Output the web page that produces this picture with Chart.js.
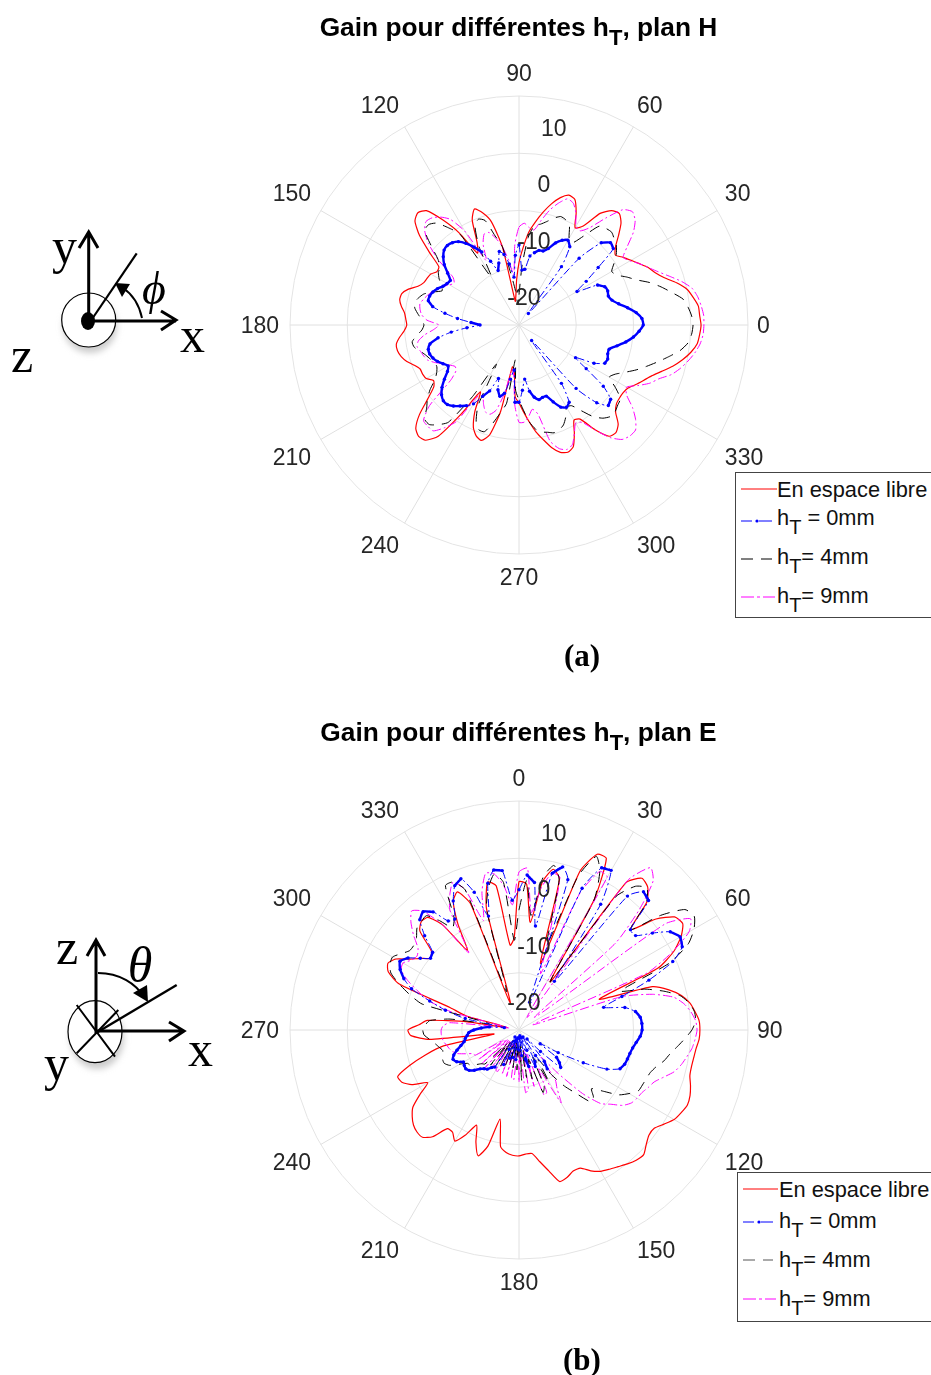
<!DOCTYPE html>
<html><head><meta charset="utf-8">
<script src="https://cdn.jsdelivr.net/npm/chart.js@4/dist/chart.umd.min.js"></script>
<style>
html,body{margin:0;padding:0;background:#fff}
#page{position:relative;width:931px;height:1375px;overflow:hidden;background:#fff}
canvas{position:absolute;left:0}
.title{position:absolute;left:0;width:1037px;text-align:center;font:bold 26.3px "Liberation Sans",Arial,sans-serif;color:#000;white-space:nowrap}
.title sub{font-size:22px;line-height:0;vertical-align:-9px}
.cap{position:absolute;font:bold 31px "Liberation Serif",serif;color:#000}
.legend{position:absolute;background:#fff;border:1px solid #444;border-right:none;box-sizing:border-box}
.legend div{position:absolute;font:21.8px "Liberation Sans",Arial,sans-serif;color:#111;white-space:nowrap;line-height:26px}
.legend sub{font-size:20px;line-height:0;vertical-align:-9px}
.legend svg{position:absolute;left:0;top:0}
svg.fig{position:absolute;left:0;top:0}
</style></head><body><div id="page">
<canvas id="a" width="931" height="700" style="top:0"></canvas>
<canvas id="b" width="931" height="670" style="top:705px"></canvas>

<div class="title" style="top:12px">Gain pour différentes h<sub>T</sub>, plan H</div>
<div class="title" style="top:717px">Gain pour différentes h<sub>T</sub>, plan E</div>
<div class="cap" style="left:564px;top:638px">(a)</div>
<div class="cap" style="left:563px;top:1342px">(b)</div>

<div class="legend" style="left:735px;top:472px;width:196px;height:146px">
<svg width="196" height="146">
<line x1="5" x2="41" y1="16" y2="16" stroke="#ff0000"/>
<line x1="5" x2="36" y1="48" y2="48" stroke="#0000ff" stroke-dasharray="11 7 13"/><circle cx="21" cy="48" r="1.6" fill="#0000ff"/>
<line x1="5" x2="36" y1="86" y2="86" stroke="#000" stroke-dasharray="12 8"/>
<line x1="5" x2="39" y1="124" y2="124" stroke="#ff00ff" stroke-dasharray="13 3 3 3"/>
</svg>
<div style="left:41px;top:4px">En espace libre</div>
<div style="left:41px;top:32px">h<sub>T</sub> = 0mm</div>
<div style="left:41px;top:71px">h<sub>T</sub>= 4mm</div>
<div style="left:41px;top:110px">h<sub>T</sub>= 9mm</div>
</div>

<div class="legend" style="left:737px;top:1172px;width:194px;height:150px">
<svg width="194" height="150">
<line x1="5" x2="40" y1="16" y2="16" stroke="#ff0000"/>
<line x1="5" x2="35" y1="49" y2="49" stroke="#0000ff" stroke-dasharray="11 7 13"/><circle cx="21" cy="49" r="1.6" fill="#0000ff"/>
<line x1="5" x2="35" y1="87" y2="87" stroke="#555" stroke-dasharray="12 8"/>
<line x1="5" x2="38" y1="126" y2="126" stroke="#ff00ff" stroke-dasharray="13 3 3 3"/>
</svg>
<div style="left:41px;top:4px">En espace libre</div>
<div style="left:41px;top:35px">h<sub>T</sub> = 0mm</div>
<div style="left:41px;top:74px">h<sub>T</sub>= 4mm</div>
<div style="left:41px;top:113px">h<sub>T</sub>= 9mm</div>
</div>

<svg class="fig" width="931" height="1375" font-family="Liberation Serif" fill="#000">
<defs><filter id="s" x="-30%" y="-30%" width="160%" height="170%"><feGaussianBlur stdDeviation="3"/></filter></defs>
<ellipse cx="90" cy="326" rx="27" ry="27" fill="#ccc" filter="url(#s)"/>
<circle cx="88.7" cy="320" r="27" fill="#fff" stroke="#000" stroke-width="1.2"/>
<ellipse cx="88" cy="321" rx="7" ry="9"/>
<g stroke="#000" stroke-width="3" fill="none">
<path d="M88.7 323V232M79 248L88.7 232L98 248"/>
<path d="M88.7 321H176M161 311L176 320L161 330"/>
<path d="M90 322L136.7 253.3" stroke-width="2.2"/>
<path d="M142 318C139 304 132 294 123 288" stroke-width="2"/>
</g>
<path d="M115 283L130 284L122 297Z"/>
<text x="52" y="263" font-size="50">y</text>
<text x="180" y="352" font-size="50">x</text>
<text x="11" y="372" font-size="50">z</text>
<text x="154" y="304" font-size="46" font-style="italic" text-anchor="middle">ϕ</text>

<ellipse cx="97" cy="1038" rx="27" ry="31" fill="#ccc" filter="url(#s)"/>
<ellipse cx="95" cy="1031.7" rx="27" ry="31" fill="#fff" stroke="#000" stroke-width="1.2"/>
<g stroke="#000" stroke-width="3" fill="none">
<path d="M96 1033V940M87 956L96 940L105 956"/>
<path d="M96 1031H184M169 1022L184 1031L169 1041"/>
<path d="M76.7 1005L115 1056.7M76.7 1053.3L118.3 1010" stroke-width="2"/>
<path d="M96 1033L176.7 985" stroke-width="2.4"/>
<path d="M98 973C120 973 136 984 144 997" stroke-width="2"/>
</g>
<path d="M148 1002L133 993L147 985Z"/>
<text x="56" y="964" font-size="50">z</text>
<text x="188" y="1066" font-size="50">x</text>
<text x="44" y="1080" font-size="50">y</text>
<text x="140" y="982" font-size="50" font-style="italic" text-anchor="middle">θ</text>
</svg>
</div>
<script>
// Gain in dB, one value every 3 degrees, from angle 0 upward.
const redA=[6.8,6.6,6.5,5.8,5.0,3.5,1.7,0.5,-0.3,-1.4,
-2.4,-3.3,-4.2,-3.3,-1.6,0.2,1.2,0.7,-0.9,-4.4,
-5.4,-3.0,-1.0,-0.7,-1.6,-3.1,-4.9,-6.8,-8.7,-11.5,
-14.1,-17.1,-19.8,-20.8,-11,-6.3,-4.4,-3.3,-4.9,-8.9,
-10.5,-5.8,-2.3,0.7,1.4,0.7,-1.6,-4.9,-7.7,-7.9,
-7.2,-7,-6.8,-6.1,-4.7,-3.8,-3.7,-4.2,-4.9,-5.2,
-5.4,-4.9,-4,-3.3,-3.3,-3.7,-4.4,-5.4,-6.1,-6.1,
-6.3,-7.2,-6.6,-4.5,-1.6,0.5,1.2,0.9,-1,-6.5,
-11.5,-8,-5.4,-4.2,-3.8,-5.1,-9.6,-17.6,-17.1,-12.4,
-11.4,-9.8,-8,-6.1,-4.5,-2.8,-1.6,-1.2,-1.7,-3.7,
-5.8,-5.4,-2.4,0,0.3,-0.5,-2.3,-3.1,-3.3,-3.3,
-3,-2.1,-1.2,-0.2,1.2,2.8,4.2,5.4,6.3,6.6];
const blueA=[-3.3,-3.5,-4.4,-5.8,-7.2,-8.2,-8.6,-8.4,-8.6,-9.6,
-13.3,-11,-7.9,-3.8,-3.5,-4.7,-9.3,-22.4,-12.4,-8.7,
-7.9,-8.4,-9.3,-10.7,-11.4,-11.5,-12.1,-12.8,-15.2,-15.4,
-11,-12.8,-16.6,-14.2,-12.4,-11.7,-13.6,-14.8,-12.8,-10.7,
-9.3,-8,-7,-6.5,-6.3,-6.5,-7.2,-8.2,-9.6,-10.7,
-10.5,-10.1,-9.4,-8.9,-8.6,-8.6,-9.6,-11.9,-14.2,-16.6,
-18.2,-15.9,-13.1,-10.7,-9.1,-8.6,-8.6,-8.9,-9.4,-10.1,
-10.7,-10.1,-8.9,-7.7,-6.8,-6.3,-6.3,-6.8,-7.5,-8.2,
-9.1,-11,-12.4,-15,-13.1,-12.1,-12.8,-15.4,-17.1,-11.5,
-11.5,-13.6,-15.5,-13.3,-12.1,-11.5,-11.7,-11.7,-10.3,-8.9,
-8.4,-8.9,-12.4,-21.5,-10.1,-5.8,-4,-4.4,-6.8,-11,
-13.6,-10.3,-8.6,-8.4,-8.7,-8.7,-7.5,-6.1,-4.9,-4];
const blackA=[5.4,5.2,4.7,4,2.3,0.7,-1,-3,-4.4,-5.8,
-6.3,-5.2,-4,-3.1,-2.6,-2.1,-2.3,-2.8,-5.8,-7.9,
-7.5,-5.6,-4.9,-4.7,-5.4,-6.3,-7,-7.3,-9.6,-14.5,
-19.7,-21.5,-18.9,-15.9,-11,-8.9,-5.8,-5.2,-6.1,-9.6,
-15.4,-6.1,-4,-2.1,-1.4,-1.7,-4.4,-6.8,-7.9,-8.2,
-8.9,-9.8,-10.3,-8.9,-7.5,-6.8,-6.3,-6.6,-7.3,-8,
-8.4,-8,-7,-6.1,-6.3,-7.2,-7.9,-8.4,-8.9,-8.9,
-8.4,-7.5,-5.8,-4.4,-3.3,-1.7,-1.6,-2.6,-4,-10.1,
-17.1,-9.3,-6.6,-5.4,-5.4,-7.2,-9.3,-11.2,-18.9,-13.6,
-11.9,-10.1,-8,-6.6,-5.9,-5.6,-5.2,-5.4,-5.9,-7,
-8.4,-8.2,-6.5,-4.4,-3.1,-2.4,-2.4,-2.8,-3.1,-4.9,
-6.8,-6.1,-4.7,-3.1,-1.6,0,1.7,3.5,4.7,5.2];
const magentaA=[7.3,7.3,7,6.6,5.9,4.4,2.6,1,-0.3,-1.4,
-2.6,-3.3,-1.6,0.7,2.3,3,2.1,-1,-4,-5.4,
-5.1,-3.1,-1.7,-1.4,-2.6,-4.2,-6.3,-8.2,-7.9,-7.2,
-7.9,-11,-16.2,-13.6,-11,-9.3,-8,-8,-9.6,-12.4,
-6.1,-3,-1.7,-0.9,-0.7,-1.7,-3.7,-6.8,-10.7,-11.5,
-11,-10.1,-9.4,-8.7,-8.2,-7.7,-7.3,-7.5,-7.9,-8.9,
-11,-10.1,-8.4,-7.2,-6.8,-7.2,-7.5,-7.9,-8.9,-10.1,
-11,-11.7,-11.4,-9.6,-4,-1.4,-1.2,-1.2,-2.8,-4.9,
-10.7,-11,-9.8,-8.7,-8.6,-9.6,-12.8,-17.1,-16.2,-11,
-8,-8,-8.9,-10.1,-9.1,-4,-2.3,-1.7,-2.1,-3.7,
-5.2,-4.7,-2.3,0.3,1.9,2.4,2.4,1.2,-0.5,-2.6,
-3.3,-1.7,0,1.2,3,4.2,5.2,6.1,6.8,7.2];

const redB=[0.9,0.5,-6.1,1.2,3.7,2.3,-12.8,4.7,8.6,8.6,
1.2,-15,6.8,9.1,8.6,6.6,1.2,5.8,8.6,9.1,
7.7,5.4,1.6,-10,-0.5,2.1,4,5.2,5.9,6.5,
6.6,6.5,6.1,5.9,5.8,5.9,6.5,7,7.2,6.8,
6.3,5.2,4.2,4.2,4.9,5.8,5.6,5.1,4.5,4,
3.5,2.6,1.4,1.4,2.1,2.4,0.2,-1.7,-3.3,-3.3,
-3,-3.1,-3.5,-4.4,-9.1,-4,-1.9,-4,-6.8,-4.4,
-2.6,-3.7,-3.7,-1,0.2,0.2,-0.2,-1,-2.1,-4.4,
-6.6,-4,-2.6,-2.3,-4.9,-8,-11.4,-20.6,-9.3,-6.1,
-5.6,-7.5,-8.9,-15.9,-22.9,-15.4,-12.4,-2.6,0,0.7,
-0.2,-2.3,-3.7,-5.1,-4.4,-0.5,0.5,0.3,-2.3,-8.4,
-3.7,0.3,1.4,-1.4,-20.1,-3.1,1.4,0.5,-10.1,-8.9];
const blueB=[-0.5,2.1,0.9,-6.6,3,4.5,2.6,-19.8,2.1,6.8,
7.2,1.2,-14.5,5.1,7.5,7,1.2,1.2,3.8,6.5,
7.5,7,4.4,-0.7,-6.1,-9.7,-6.1,-4.4,-3.7,-3.5,
-3.5,-3.8,-4.4,-4.9,-5.2,-5.4,-5.6,-6.1,-8.2,-12.4,
-17.1,-20.6,-16.9,-15.9,-15.2,-19.7,-22.9,-18,-16.6,-19.7,
-23.6,-18.9,-18,-21.2,-23.6,-18.4,-19.8,-24,-20.5,-23.6,
-21.5,-23.6,-19.8,-23.6,-20.1,-23.3,-19.8,-22.9,-18.4,-21.2,
-23.6,-17.3,-16.9,-16.2,-15.9,-15.4,-14.5,-13.8,-13.5,-13.6,
-13.8,-12.8,-12.4,-12.8,-13.6,-14.5,-15.2,-15.5,-15.9,-16.2,
-17.1,-18.4,-19.8,-22.4,-15.4,-11.7,-8.6,-4.9,-3,-1.7,
-1,-1.9,-3.7,-5.1,-4.7,-1.7,0.9,1.6,0.5,-2.3,
-2.6,0.3,2.6,3.3,0.3,-4.4,1.2,3.3,3,-2.3];
const blackB=[-4,1.2,-4.9,2.1,4.4,2.1,-9.3,3.8,8.2,6.1,
1.2,-15,3.8,7.3,8.4,6.5,1.2,6.8,10.8,11.5,
10.3,8.2,3.8,-6,-1.9,1.2,3.8,5.1,5.8,5.9,
5.2,4,2.8,1.7,0.9,-0.2,-0.9,-1.2,-1.4,-1.6,
-2.8,-4.2,-6.8,-8.7,-7.5,-7.2,-10.1,-12.4,-15.4,-18.9,
-14.5,-19.7,-14.2,-13.3,-19.7,-16.2,-21.5,-16.6,-22.4,-16.2,
-22.4,-18,-22.9,-18.3,-23.3,-18.9,-22.9,-18.4,-22.4,-18,
-22.9,-17.6,-22.4,-17.1,-21.8,-16.6,-16.2,-15.4,-14.5,-14.3,
-13.1,-11.4,-10.7,-10.7,-11,-11.2,-10.7,-10.1,-9.3,-8.4,
-8.2,-8.6,-9.3,-12.8,-19.7,-7.5,-4.9,-2.6,-0.5,0.3,
0.5,-0.5,-1.4,-1.4,-0.9,0.2,0.5,0.7,-1.4,-3.7,
-2.3,3.3,3.3,1.2,-18,-3.1,0.5,2.6,0.9,-9.3];
const magentaB=[2.6,3.3,-4.4,0.3,3,2.6,-8.4,-14.5,1.2,6.1,
5.8,-22.4,7.3,11.5,10,4.7,-2.3,-21.5,6.5,10.7,
9.3,5.1,-0.5,-22.4,-6.1,-0.9,2.6,4.2,5.2,5.9,
6.1,5.8,5.4,4.7,4,3.1,1.6,0.3,-0.3,-0.9,
-1.2,-1.6,-2.6,-4.4,-5.8,-9.3,-14.8,-18.9,-14.2,-12.8,
-10.3,-17.6,-13.1,-12.8,-20.6,-14.8,-21.5,-14.5,-14,-21.5,
-15.9,-22.4,-16.2,-16.6,-22.9,-16.6,-22.9,-16.9,-22.4,-16.9,
-16.9,-22.5,-16.6,-22.5,-16.2,-22.4,-16.2,-22.4,-16.2,-21.8,
-16.2,-15.9,-14.8,-13.5,-12.8,-12.4,-12.1,-11.7,-11.5,-11.4,
-11.4,-11.7,-12.8,-21.5,-23.2,-12.8,-8.4,-6.1,-3.7,-1.9,
-1.6,-2.6,-3,-2.3,-0.2,1.7,3,1.7,-2.3,-8.9,
-0.9,1.6,3.3,1.2,-4.9,0,3,2.6,0.3,-3.1];

const radialTicks=[-20,-10,0,10];
const STEP=3;
const seriesNames=['En espace libre','h_T = 0mm','h_T = 4mm','h_T = 9mm'];
const anglesA=Array.from({length:120},(_,i)=>(90-STEP*i+360)%360);
const anglesB=Array.from({length:120},(_,i)=>(STEP*i)%360);

const labelFont='23px "Liberation Sans", Arial, sans-serif';
const textPlugin={id:'polarText',
 afterDraw(chart){
  const s=chart.scales.r,c=chart.ctx;
  c.save();c.font=labelFont;c.fillStyle='#262626';c.textAlign='center';c.textBaseline='middle';
  const sgn=v=>Math.abs(v)<1e-6?0:Math.sign(v);
  chart.data.labels.forEach((l,i)=>{
    if(l%30)return;
    const p=s.getPointPosition(i,s.drawingArea+11);
    const t=String(l),w=c.measureText(t).width;
    const sx=sgn(Math.cos(p.angle));
    c.fillText(t,p.x+sx*w/2-(sx>0?2:0),p.y+sgn(Math.sin(p.angle))*12+1.5);
  });
  const a=80*Math.PI/180;
  radialTicks.forEach(v=>{
    const d=s.getDistanceFromCenterForValue(v);
    c.fillText(String(v),s.xCenter+Math.cos(a)*d,s.yCenter-Math.sin(a)*d+2);
  });
  c.restore();
 }};

// Where the blue trace turns slowly its closely spaced markers merge into a bold stroke:
// those stretches of the same series are stroked again, solid and wider.
function slowStretches(v){
  const n=v.length,lim=1.6,out=v.map(()=>null);
  for(let i=0;i<n;i++){
    const near=j=>Math.abs(v[i]-v[(j+n)%n])<lim;
    if(v[i]>-20&&(near(i-1)||near(i+1)))out[i]=v[i];
  }
  for(let i=0;i<n;i++){
    const j=(i+1)%n;
    if(out[i]!==null&&out[j]!==null&&Math.abs(out[i]-out[j])>=lim)out[j]=null;
  }
  return out;
}
function make(id,angles,red,blue,black,magenta,bottom){
  const pick=a=>angles.map(l=>a[l/STEP]);
  const line={fill:false,pointRadius:0,borderWidth:1,tension:0.2};
  new Chart(document.getElementById(id),{
    type:'radar',
    data:{labels:angles,datasets:[
      {...line,label:seriesNames[0],data:pick(red),borderColor:'#ff0000',borderWidth:1.2,order:5},
      {...line,label:seriesNames[1],data:pick(blue),borderColor:'#0000ff',borderDash:[8,3,2,3],pointRadius:1.7,pointBackgroundColor:'#0000ff',pointBorderWidth:0,order:1},
      {...line,label:seriesNames[1],data:slowStretches(pick(blue)),borderColor:'#0000ff',borderWidth:2.4,spanGaps:false,order:2},
      {...line,label:seriesNames[2],data:pick(black),borderColor:'#000000',borderDash:[11,8],order:3},
      {...line,label:seriesNames[3],data:pick(magenta),borderColor:'#ff00ff',borderDash:[9,3,2,3],order:4}
    ]},
    options:{responsive:false,animation:false,devicePixelRatio:1,
      layout:{padding:{left:290,right:183,top:96,bottom:bottom}},
      plugins:{legend:{display:false},title:{display:false},tooltip:{enabled:false}},
      scales:{r:{min:-25,max:15,
        ticks:{display:false,stepSize:10},
        pointLabels:{display:false},
        grid:{circular:true,color:'#e4e4e4',lineWidth:1},
        angleLines:{display:true,
          color:ctx=>ctx.index%10===0?'#e0e0e0':'rgba(0,0,0,0)',
          lineWidth:ctx=>ctx.index%10===0?1:0},
        border:{display:false}
      }}
    },
    plugins:[textPlugin]
  });
}
make('a',anglesA,redA,blueA,blackA,magentaA,146);
make('b',anglesB,redB,blueB,blackB,magentaB,116);
</script>
</body></html>
